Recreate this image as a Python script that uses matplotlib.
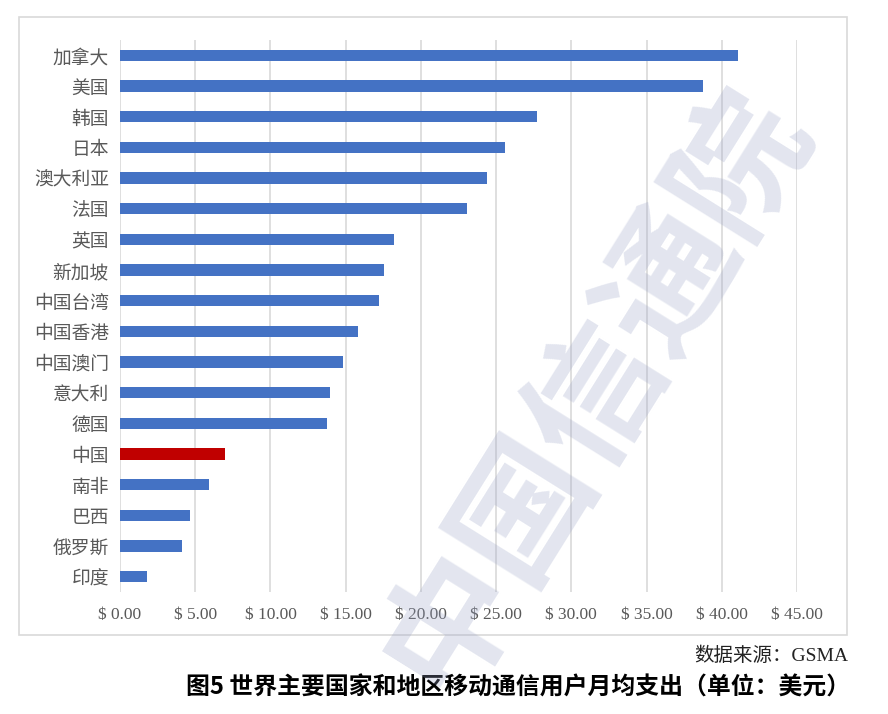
import matplotlib.pyplot as plt
from matplotlib.patches import Rectangle

plt.rcParams['font.family'] = ['Noto Sans CJK SC', 'DejaVu Sans']

# categories top to bottom
countries = ['加拿大', '美国', '韩国', '日本', '澳大利亚', '法国', '英国', '新加坡', '中国台湾',
             '中国香港', '中国澳门', '意大利', '德国', '中国', '南非', '巴西', '俄罗斯', '印度']
arpu = [41.1, 38.75, 27.7, 25.6, 24.4, 23.05, 18.2, 17.55, 17.2,
        15.8, 14.8, 13.95, 13.75, 6.95, 5.9, 4.65, 4.1, 1.8]
xticks = [0, 5, 10, 15, 20, 25, 30, 35, 40, 45]

blue = '#4472C4'
red = '#C00000'
colors = [red if c == '中国' else blue for c in countries]

fig = plt.figure(figsize=(8.88, 7.14), dpi=100)

# outer chart frame
fig.patches.append(Rectangle((19 / 888, 1 - 635 / 714), (847 - 19) / 888, (635 - 17) / 714,
                             transform=fig.transFigure, fill=False, edgecolor='#d9d9d9', lw=1.2))

ax = fig.add_axes([120 / 888, 1 - 592 / 714, (797 - 120) / 888, (592 - 40) / 714])
y = list(range(len(countries)))
ax.barh(y, arpu, height=0.36, color=colors, zorder=3)
ax.set_ylim(len(countries) - 0.5, -0.5)
ax.set_xlim(0, 45)
ax.set_xticks(xticks)
ax.set_xticklabels(['$ %.2f' % v for v in xticks], family='Liberation Serif',
                   fontsize=12.5, color='#595959')
ax.set_yticks(y)
ax.set_yticklabels(countries, fontsize=13.5, color='#595959')
ax.tick_params(length=0, pad=8)
ax.tick_params(axis='x', pad=11)
ax.grid(axis='x', color='#d9d9d9', lw=1.2, zorder=0)
for s in ax.spines.values():
    s.set_visible(False)

fig.text(848 / 888, 1 - 656 / 714, '数据来源：GSMA', ha='right', va='center', fontsize=14,
         color='#222222', family=['Liberation Serif', 'Noto Sans CJK SC'])
fig.text(850 / 888, 1 - 688 / 714, '图5 世界主要国家和地区移动通信用户月均支出（单位：美元）',
         ha='right', va='center', fontsize=17.2, fontweight='bold', color='black')

# watermark
fig.text(595 / 888, 1 - 390 / 714, '中国信通院', ha='center', va='center', fontsize=98,
         fontweight='bold', rotation=58, color='#9aa3c7', alpha=0.28, zorder=10)

fig.savefig('out.png', dpi=100)
